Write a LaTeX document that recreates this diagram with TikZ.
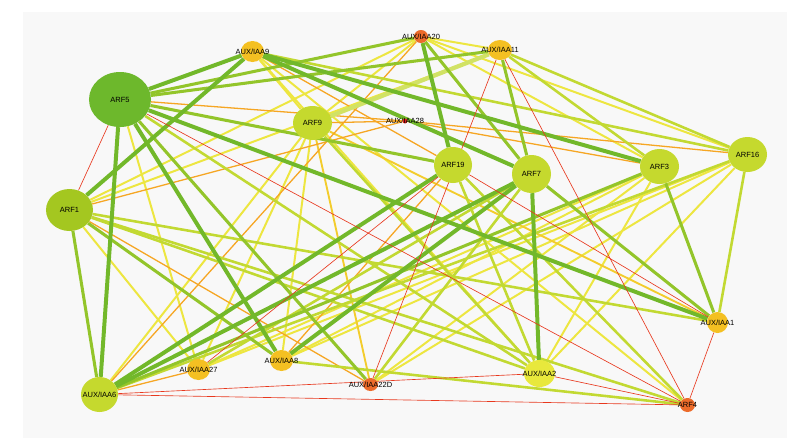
\documentclass[tikz,border=0pt]{standalone}
\usepackage{fontspec}
\setmainfont{Liberation Sans}
\usetikzlibrary{shapes.geometric,backgrounds}
\definecolor{bgc}{HTML}{F8F8F8}
\definecolor{cG}{HTML}{72B82A}
\definecolor{cLG}{HTML}{93C52A}
\definecolor{cYG}{HTML}{C2D932}
\definecolor{cY}{HTML}{EDE640}
\definecolor{cGo}{HTML}{F3CC2C}
\definecolor{cO}{HTML}{F6A623}
\definecolor{cR}{HTML}{E8381E}
\definecolor{nG}{HTML}{6DB82C}
\definecolor{nL}{HTML}{A4C720}
\definecolor{nYG}{HTML}{C5D92E}
\definecolor{nYe}{HTML}{E8E83C}
\definecolor{nGo}{HTML}{F4C022}
\definecolor{nOr}{HTML}{EC6B2A}
\definecolor{nR}{HTML}{E0231E}
\begin{document}
\begin{tikzpicture}[x=0.03cm,y=-0.03cm,
  nd/.style={ellipse,inner sep=0pt,draw=none},
  lbl/.style={font=\fontsize{6.4pt}{7pt}\selectfont,text=black,inner sep=0pt},
  eG/.style={draw=cG,line width=3.4pt},
  eLG/.style={draw=cLG,line width=2.6pt},
  eYG/.style={draw=cYG,line width=2.2pt},
  eW/.style={draw=cYG!75!white,line width=3.6pt},
  eY/.style={draw=cY,line width=1.7pt},
  eGo/.style={draw=cGo,line width=1.6pt},
  eO/.style={draw=cO,line width=1.1pt},
  eR/.style={draw=cR,line width=0.55pt}]
\useasboundingbox (0,0) rectangle (798,439);
% nodes
\node[nd,fill=nG,minimum width=1.86cm,minimum height=1.65cm,label={[lbl]center:ARF5}] (F5) at (120,99.5) {};
\node[nd,fill=nL,minimum width=1.41cm,minimum height=1.26cm,label={[lbl]center:ARF1}] (F1) at (69.5,210) {};
\node[nd,fill=nYG,minimum width=1.11cm,minimum height=1.05cm,label={[lbl]center:AUX/IAA6}] (A6) at (99.5,394.5) {};
\node[nd,fill=nGo,minimum width=0.69cm,minimum height=0.63cm,label={[lbl]center:AUX/IAA27}] (A27) at (198.5,369.5) {};
\node[nd,fill=nGo,minimum width=0.69cm,minimum height=0.63cm,label={[lbl]center:AUX/IAA9}] (A9) at (252.5,51.5) {};
\node[nd,fill=nOr,minimum width=0.42cm,minimum height=0.39cm,label={[lbl]center:AUX/IAA20}] (A20) at (421,36.5) {};
\node[nd,fill=nGo,minimum width=0.72cm,minimum height=0.60cm,label={[lbl]center:AUX/IAA11}] (A11) at (500,50) {};
\node[nd,fill=nYG,minimum width=1.17cm,minimum height=1.02cm,label={[lbl]center:ARF9}] (F9) at (312.5,123) {};
\node[nd,fill=nR,minimum width=0.15cm,minimum height=0.15cm,label={[lbl]center:AUX/IAA28}] (A28) at (405,121) {};
\node[nd,fill=nYG,minimum width=1.14cm,minimum height=1.08cm,label={[lbl]center:ARF19}] (F19) at (453,165) {};
\node[nd,fill=nYG,minimum width=1.17cm,minimum height=1.14cm,label={[lbl]center:ARF7}] (F7) at (531.5,174) {};
\node[nd,fill=nYG,minimum width=1.17cm,minimum height=1.05cm,label={[lbl]center:ARF3}] (F3) at (659.5,166.5) {};
\node[nd,fill=nYG,minimum width=1.17cm,minimum height=1.05cm,label={[lbl]center:ARF16}] (F16) at (747.5,154.5) {};
\node[nd,fill=nGo,minimum width=0.69cm,minimum height=0.63cm,label={[lbl]center:AUX/IAA8}] (A8) at (281.5,360.5) {};
\node[nd,fill=nOr,minimum width=0.45cm,minimum height=0.39cm,label={[lbl]center:AUX/IAA22D}] (A22D) at (370.5,384.5) {};
\node[nd,fill=nYe,minimum width=0.93cm,minimum height=0.81cm,label={[lbl]center:AUX/IAA2}] (A2) at (539.5,373.5) {};
\node[nd,fill=nGo,minimum width=0.63cm,minimum height=0.63cm,label={[lbl]center:AUX/IAA1}] (A1) at (717.5,322.5) {};
\node[nd,fill=nOr,minimum width=0.45cm,minimum height=0.42cm,label={[lbl]center:ARF4}] (F4) at (687.5,405) {};
\begin{pgfonlayer}{background}
\fill[white] (0,0) rectangle (798,439);
\fill[bgc] (23,12) rectangle (787,438);
\foreach \a/\b in {F5/A27,F1/A20,F1/A11,F1/A27,A6/F9,A27/F9,A8/F9,A9/F9,A9/A2,A9/F4,F9/A20,A20/F3,A20/F16,F3/A2,F3/A27,F3/A22D,F3/A8,F16/A2,F16/A27,F16/A22D,F16/A8,A20/A11}
  \draw[eY] (\a) -- (\b);
\foreach \a/\b in {F9/A22D,F9/A1}
  \draw[eGo] (\a) -- (\b);
\foreach \a/\b in {F5/A28,F1/A28,F9/A28,A28/F3,A28/F16,F1/A22D,A6/A27,A8/F19,A9/F19,A20/A6}
  \draw[eO] (\a) -- (\b);
\draw[eW] (F9) -- (A11);
\foreach \a/\b in {F5/A2,F1/A1,F1/F4,F1/A2,F9/A2,A9/F16,A11/F3,A11/F16,F19/A2,F19/F4,A8/F4,F7/A22D,F7/A27,F16/A6,F16/A1}
  \draw[eYG] (\a) -- (\b);
\foreach \a/\b in {F5/A20,F5/A11,F5/A22D,F5/F19,F1/A6,F1/A8,A20/F7,A11/F7,F7/A1,F3/A1,A6/F3}
  \draw[eLG] (\a) -- (\b);
\foreach \a/\b in {F5/A9,F5/A6,F5/A8,F5/A1,F1/A9,A6/F19,A9/F3,A9/F7,A20/F19,F7/A2,F7/A8,F7/A6}
  \draw[eG] (\a) -- (\b);
\foreach \a/\b in {F5/F1,F5/F4,A11/F4,A11/A22D,A1/F4,A2/F4,A6/F4,A6/A2,A27/F19,F19/A1}
  \draw[eR] (\a) -- (\b);
\end{pgfonlayer}
\end{tikzpicture}
\end{document}
